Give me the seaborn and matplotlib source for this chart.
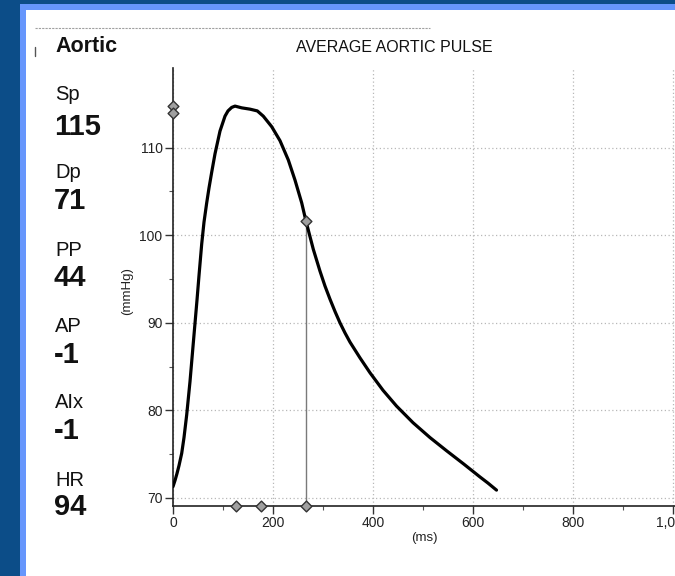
import matplotlib
matplotlib.use("Agg")
import matplotlib.pyplot as plt
from matplotlib.lines import Line2D
from matplotlib.patches import Rectangle
import seaborn as sns
import pandas as pd

# ---- data ----
time_ms = [0, 4, 8, 12, 17.4, 22, 27.4, 34, 40, 48, 52, 57.4, 62, 67.4, 72, 77.4,
           84, 94, 104, 110, 117.4, 124, 137.4, 154, 168.6, 180.6, 197.4, 214,
           230.6, 244, 257.4, 266, 280.6, 294, 304, 314, 324, 334, 344, 354, 374,
           394, 420, 447, 480, 514, 547, 581, 614, 630, 647]
pressure = [71.3, 72.0, 72.8, 73.7, 75.1, 76.9, 79.5, 83.3, 87.3, 92.6, 95.4,
            99.0, 101.5, 103.7, 105.4, 107.2, 109.3, 111.9, 113.6, 114.2, 114.6,
            114.75, 114.55, 114.4, 114.2, 113.6, 112.4, 110.8, 108.6, 106.3, 103.7,
            101.6, 98.4, 95.9, 94.2, 92.7, 91.3, 90.0, 88.85, 87.8, 86.0, 84.3,
            82.3, 80.5, 78.6, 76.9, 75.4, 73.9, 72.4, 71.7, 70.9]

axis_marker_ms = [126, 175, 266]
sp_markers = [114.8, 114.0]
t1_ms = 266
t1_value = 101.6

param_names = ["Sp", "Dp", "PP", "AP", "AIx", "HR"]
param_values = ["115", "71", "44", "-1", "-1", "94"]

xticks = [0, 200, 400, 600, 800, 1000]
xtick_labels = ["0", "200", "400", "600", "800", "1,000"]
yticks = [70, 80, 90, 100, 110]

title = "AVERAGE AORTIC PULSE"
panel_title = "Aortic"

# ---- figure ----
sns.set_style("white")
plt.rcParams["font.family"] = ["Liberation Sans", "DejaVu Sans"]

W, H = 675, 576
fig = plt.figure(figsize=(W / 100, H / 100), dpi=100, facecolor="#0c4d88")


def fx(px):
    return px / W


def fy(py):
    return 1 - py / H


fig.add_artist(Rectangle((fx(20), 0), 1 - fx(20), fy(4), transform=fig.transFigure,
                         facecolor="#6696fc", edgecolor="none", zorder=0))
fig.add_artist(Rectangle((fx(26), 0), 1 - fx(26), fy(10), transform=fig.transFigure,
                         facecolor="white", edgecolor="none", zorder=0))
fig.add_artist(Line2D([fx(35), fx(430)], [fy(28), fy(28)], transform=fig.transFigure,
                      color="#a0a0a0", lw=0.8, ls=(0, (2, 1))))
fig.add_artist(Line2D([fx(35), fx(35)], [fy(47), fy(56)], transform=fig.transFigure,
                      color="#555555", lw=1.0))

# axes geometry (pixels)
x0_px, xscale = 173, 0.5
y_bottom_px, y_top_px = 505.7, 68
ylo, yhi = 69.12, 119.1
xlo, xhi = 0, 1040
left = fx(x0_px)
width = (xhi - xlo) * xscale / W
bottom = fy(y_bottom_px)
height = (y_bottom_px - y_top_px) / H

ax = fig.add_axes([left, bottom, width, height])
ax.set_facecolor("none")

df = pd.DataFrame({"t": time_ms, "p": pressure})
sns.lineplot(data=df, x="t", y="p", ax=ax, color="black", lw=2.3, sort=False,
             zorder=4)
ax.lines[-1].set_solid_joinstyle("round")
ax.lines[-1].set_solid_capstyle("round")

ax.plot([t1_ms, t1_ms], [ylo, t1_value], color="#7a7a7a", lw=1.0, zorder=3)

mk = pd.DataFrame({"t": axis_marker_ms + [t1_ms] + [0] * len(sp_markers),
                   "p": [ylo] * len(axis_marker_ms) + [t1_value] + sp_markers})
sns.scatterplot(data=mk, x="t", y="p", ax=ax, marker="D", s=30, color="#a0a0a0",
                edgecolor="#333333", linewidth=1.0, zorder=6, clip_on=False)

ax.set_xlim(xlo, xhi)
ax.set_ylim(ylo, yhi)
ax.set_xticks(xticks)
ax.set_xticklabels(xtick_labels)
ax.set_xticks([100, 300, 500, 700, 900], minor=True)
ax.set_yticks(yticks)
ax.set_yticks([75, 85, 95, 105], minor=True)
ax.set_xlabel("")
ax.set_ylabel("")

for s in ["top", "right"]:
    ax.spines[s].set_visible(False)
for s in ["left", "bottom"]:
    ax.spines[s].set_color("#222222")
    ax.spines[s].set_linewidth(1.2)

ax.tick_params(axis="both", which="major", direction="out", length=6, width=1,
               color="#333333", labelsize=10, labelcolor="#222222", pad=1.5,
               left=True, bottom=True)
ax.tick_params(axis="both", which="minor", direction="out", length=3, width=0.8,
               color="#555555", left=True, bottom=True)

ax.grid(True, which="major", color="#b8b8b8", lw=0.9, ls=(0, (1, 2)))
ax.grid(False, which="minor")

# texts
fig.text(fx(394), fy(47), title, ha="center", va="center", fontsize=11.5,
         color="#111111")
fig.text(fx(127), fy(291), "(mmHg)", ha="center", va="center", rotation=90,
         fontsize=9.5, color="#222222")
fig.text(fx(424), fy(538), "(ms)", ha="center", va="center", fontsize=9.5,
         color="#222222")

fig.text(fx(55), fy(47), panel_title, ha="left", va="center", fontsize=15.5,
         fontweight="bold", color="#111111")
name_y = [95, 172, 250, 327, 403, 480]
val_y = [127, 201, 278, 355, 431, 507]
for n, v, ny, vy in zip(param_names, param_values, name_y, val_y):
    fig.text(fx(55), fy(ny), n, ha="left", va="center", fontsize=14.5,
             color="#111111")
    fig.text(fx(54), fy(vy), v, ha="left", va="center", fontsize=21,
             fontweight="bold", color="#111111")

fig.savefig("out.png", dpi=100, facecolor=fig.get_facecolor())
